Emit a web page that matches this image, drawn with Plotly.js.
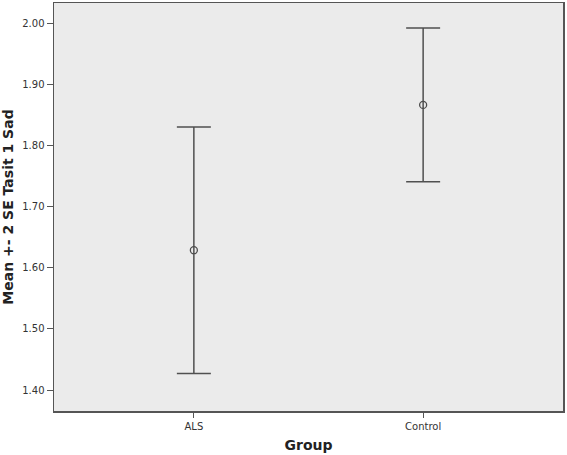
<!DOCTYPE html>
<html>
<head>
<meta charset="utf-8">
<script src="https://cdn.plot.ly/plotly-3.0.1.min.js"></script>
<style>
  html, body { margin: 0; padding: 0; background: #fff; }
  #myDiv { width: 567px; height: 455px; }
</style>
</head>
<body>
<div id="myDiv"></div>
<script>
// group means and +-2 SE bounds
var groups = ['ALS', 'Control'];
var means = [1.629, 1.867];
var upper = [1.831, 1.993];
var lower = [1.427, 1.741];
var yTicks = [1.40, 1.50, 1.60, 1.70, 1.80, 1.90, 2.00];
var yTickText = ['1.40', '1.50', '1.60', '1.70', '1.80', '1.90', '2.00'];

var plus = means.map(function (m, i) { return upper[i] - m; });
var minus = means.map(function (m, i) { return m - lower[i]; });

var trace = {
  x: groups,
  y: means,
  type: 'scatter',
  mode: 'markers',
  marker: {
    symbol: 'circle-open',
    size: 7,
    color: '#4d4d4d',
    line: {width: 1.3, color: '#4d4d4d'}
  },
  error_y: {
    type: 'data',
    symmetric: false,
    array: plus,
    arrayminus: minus,
    color: '#505050',
    thickness: 1.5,
    width: 17
  },
  hoverinfo: 'x+y',
  showlegend: false
};

var layout = {
  width: 567,
  height: 455,
  margin: {l: 54, r: 4, t: 3, b: 44},
  paper_bgcolor: '#ffffff',
  plot_bgcolor: '#ebebeb',
  font: {family: 'DejaVu Sans, sans-serif', size: 10, color: '#333333'},
  xaxis: {
    type: 'category',
    range: [-0.61, 1.61],
    showgrid: false,
    zeroline: false,
    showline: true,
    mirror: true,
    linecolor: '#555555',
    linewidth: 1.5,
    ticks: 'outside',
    ticklen: 5,
    tickcolor: '#555555',
    tickfont: {size: 10, color: '#333333'},
    title: {text: 'Group', font: {size: 14, color: '#222222', family: 'DejaVu Sans, sans-serif', weight: 'bold'}, standoff: 9}
  },
  yaxis: {
    range: [1.3656, 2.034],
    tickvals: yTicks,
    ticktext: yTickText,
    showgrid: false,
    zeroline: false,
    showline: true,
    mirror: true,
    linecolor: '#555555',
    linewidth: 1.5,
    ticks: 'outside',
    ticklen: 6,
    tickcolor: '#555555',
    tickfont: {size: 10, color: '#333333'},
    title: {text: 'Mean +- 2 SE Tasit 1 Sad', font: {size: 14, color: '#222222', family: 'DejaVu Sans, sans-serif', weight: 'bold'}, standoff: 6}
  }
};

Plotly.newPlot('myDiv', [trace], layout, {displayModeBar: false, staticPlot: true});
</script>
</body>
</html>
